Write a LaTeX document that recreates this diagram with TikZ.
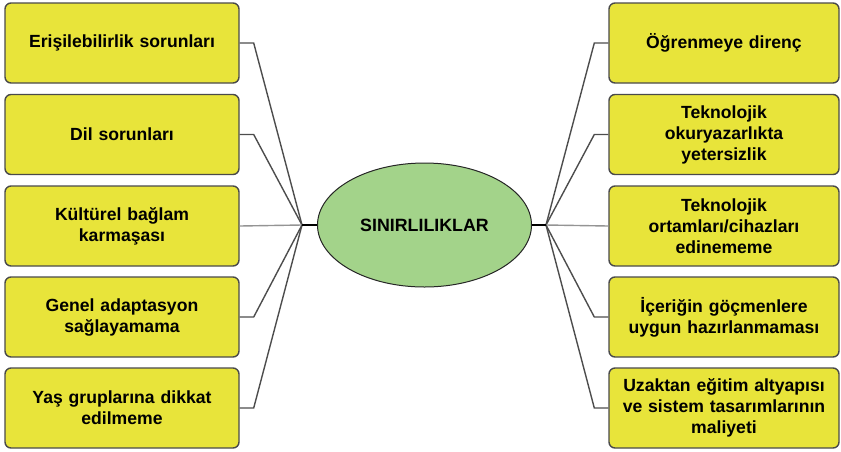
\documentclass[tikz,border=0pt]{standalone}
\usepackage{fontspec}
\setmainfont{Liberation Sans}
\usetikzlibrary{shapes.geometric}
\definecolor{boxfill}{HTML}{E8E43A}
\definecolor{boxdraw}{HTML}{4A4A4A}
\definecolor{ellfill}{HTML}{A3D38A}
\definecolor{linec}{HTML}{4D4D4D}
\tikzset{
  itembox/.style={draw=boxdraw, line width=1.4pt, fill=boxfill, rounded corners=6pt,
    minimum height=80pt, text width=#1, align=center,
    font=\bfseries\fontsize{17.6}{21}\selectfont, inner sep=0pt},
  centre/.style={ellipse, draw=black!85, line width=1pt, fill=ellfill,
    minimum width=214pt, minimum height=124pt, font=\bfseries\fontsize{17.8}{21}\selectfont},
  conn/.style={draw=linec, line width=1.4pt},
  stub/.style={draw=black, line width=2pt}
}
\begin{document}
\begin{tikzpicture}[x=1pt,y=-1pt]
\useasboundingbox (0,0) rectangle (841,451);
% left boxes
\node[itembox=228pt, minimum width=234pt] (l1) at (122,43) {Erişilebilirlik sorunları};
\node[itembox=228pt, minimum width=234pt] (l2) at (122,134.5) {Dil sorunları};
\node[itembox=228pt, minimum width=234pt] (l3) at (122,226) {Kültürel bağlam\\karmaşası};
\node[itembox=228pt, minimum width=234pt] (l4) at (122,317) {Genel adaptasyon\\sağlayamama};
\node[itembox=228pt, minimum width=234pt] (l5) at (122,408) {Yaş gruplarına dikkat\\edilmeme};
% right boxes
\node[itembox=224pt, minimum width=230pt] (r1) at (724,43) {Öğrenmeye direnç};
\node[itembox=224pt, minimum width=230pt] (r2) at (724,134.5) {Teknolojik\\okuryazarlıkta\\yetersizlik};
\node[itembox=224pt, minimum width=230pt] (r3) at (724,226) {Teknolojik\\ortamları/cihazları\\edinememe};
\node[itembox=224pt, minimum width=230pt] (r4) at (724,317) {İçeriğin göçmenlere\\uygun hazırlanmaması};
\node[itembox=224pt, minimum width=230pt] (r5) at (724,408) {Uzaktan eğitim altyapısı\\ve sistem tasarımlarının\\maliyeti};
% centre
\node[centre] (c) at (424.5,225) {SINIRLILIKLAR};
\coordinate (hl) at (302,225);
\coordinate (hr) at (546,225);
% left connectors
\draw[conn] (l1.east) -- ++(14,0) -- (hl);
\draw[conn] (l2.east) -- ++(14,0) -- (hl);
\draw[conn, draw=linec!60] (l3.east) -- (hl);
\draw[conn] (l4.east) -- ++(14,0) -- (hl);
\draw[conn] (l5.east) -- ++(14,0) -- (hl);
% right connectors
\draw[conn] (r1.west) -- ++(-14,0) -- (hr);
\draw[conn] (r2.west) -- ++(-14,0) -- (hr);
\draw[conn, draw=linec!60] (r3.west) -- (hr);
\draw[conn] (r4.west) -- ++(-14,0) -- (hr);
\draw[conn] (r5.west) -- ++(-14,0) -- (hr);
% stubs
\draw[stub] (hl) -- (c.west);
\draw[stub] (c.east) -- (hr);
\end{tikzpicture}
\end{document}
